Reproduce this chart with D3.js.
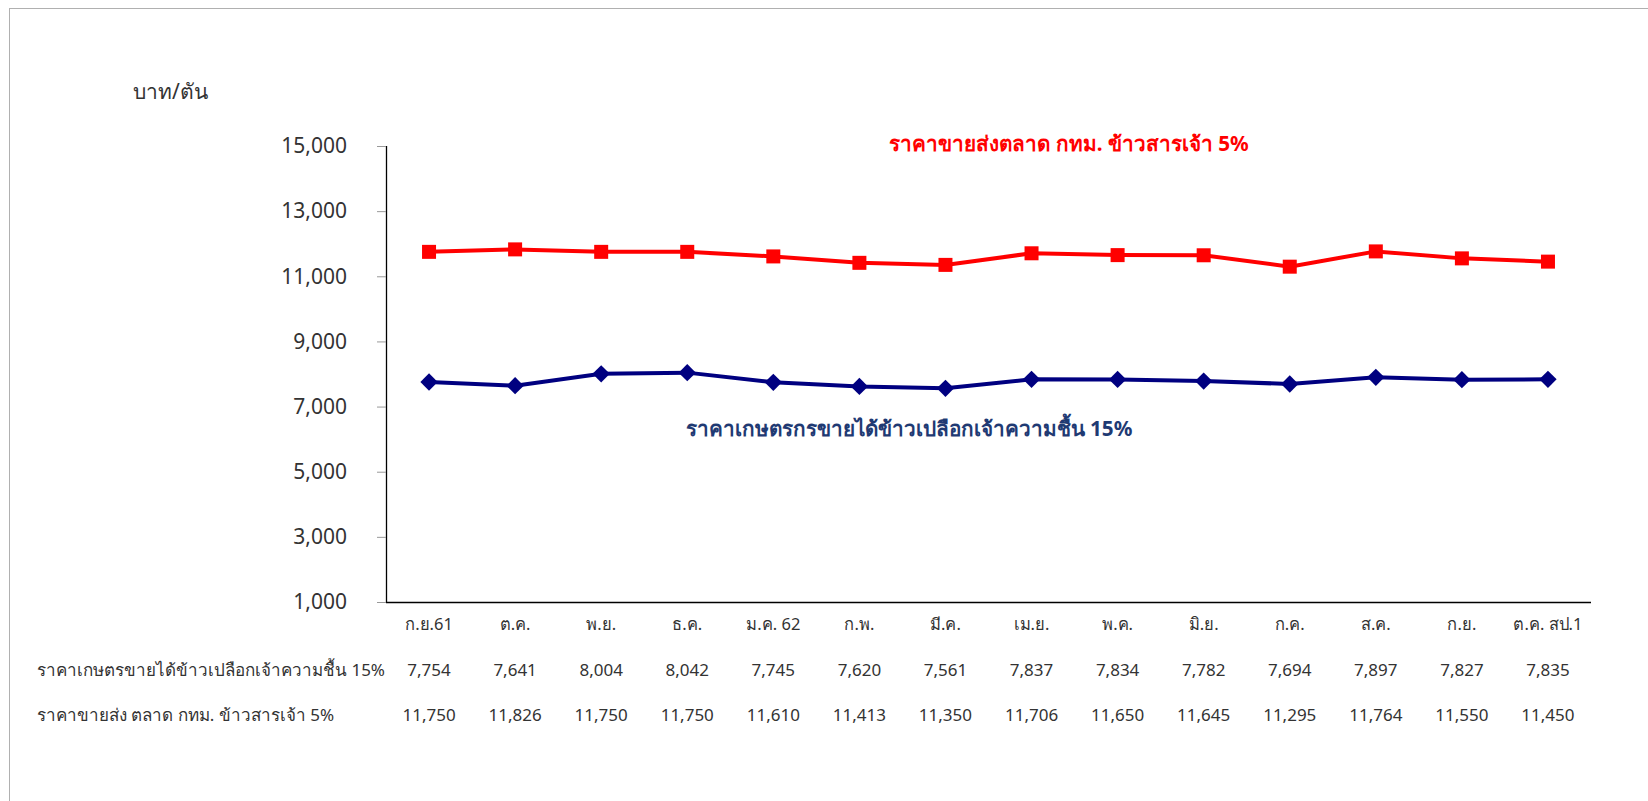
<!DOCTYPE html>
<html>
<head>
    <meta charset="utf-8">
    <style>
        body {
            margin: 0;
            width: 1648px;
            height: 801px;
            overflow: hidden;
            background: white;
        }
        svg {
            display: block;
            background: white;
        }
        text {
            font-family: "Noto Sans", Tahoma, "DejaVu Sans", sans-serif;
            fill: #333;
        }
        .axis text {
            font-size: 21px;
            fill: #333;
        }
        .cat text {
            font-size: 16.5px;
        }
        .tbl {
            font-size: 17px;
        }
    </style>
    <script src="https://d3js.org/d3.v7.min.js"></script>
</head>
<body>
<script>
const months = ["ก.ย.61", "ต.ค.", "พ.ย.", "ธ.ค.", "ม.ค. 62", "ก.พ.", "มี.ค.", "เม.ย.", "พ.ค.", "มิ.ย.", "ก.ค.", "ส.ค.", "ก.ย.", "ต.ค. สป.1"];
const farmPrice = [7754, 7641, 8004, 8042, 7745, 7620, 7561, 7837, 7834, 7782, 7694, 7897, 7827, 7835];
const wholesalePrice = [11750, 11826, 11750, 11750, 11610, 11413, 11350, 11706, 11650, 11645, 11295, 11764, 11550, 11450];
const yTicks = [1000, 3000, 5000, 7000, 9000, 11000, 13000, 15000];
const farmName = "ราคาเกษตรกรขายได้ข้าวเปลือกเจ้าความชื้น 15%";
const wholesaleName = "ราคาขายส่งตลาด กทม. ข้าวสารเจ้า 5%";
const farmRowName = "ราคาเกษตรขายได้ข้าวเปลือกเจ้าความชื้น 15%";
const wholesaleRowName = "ราคาขายส่ง ตลาด กทม. ข้าวสารเจ้า 5%";
const unit = "บาท/ตัน";

const width = 1648, height = 801;
const plot = {left: 386, right: 1591, top: 146, bottom: 602};

const svg = d3.select("body").append("svg")
    .attr("width", width)
    .attr("height", height);

// outer frame
svg.append("rect")
    .attr("x", 9.5).attr("y", 8.5)
    .attr("width", width).attr("height", height)
    .attr("fill", "none")
    .attr("stroke", "#b0b0b0");

const x = d3.scaleBand()
    .domain(months)
    .range([plot.left, plot.right]);

const y = d3.scaleLinear()
    .domain([1000, 15000])
    .range([plot.bottom, plot.top]);

// y axis
const yAxis = svg.append("g")
    .attr("class", "axis")
    .attr("transform", `translate(${plot.left},0)`)
    .call(d3.axisLeft(y).tickValues(yTicks).tickSize(9).tickPadding(30)
        .tickFormat(d3.format(",")));
yAxis.select(".domain").attr("stroke", "#000").attr("stroke-width", 1.3)
    .attr("d", `M0.5,${plot.top}V${plot.bottom}`);
yAxis.selectAll(".tick line").attr("stroke", "#999");

// x axis line
svg.append("line")
    .attr("x1", plot.left).attr("x2", plot.right)
    .attr("y1", plot.bottom + 0.5).attr("y2", plot.bottom + 0.5)
    .attr("stroke", "#000").attr("stroke-width", 1.3);

// unit label
svg.append("text")
    .attr("x", 133).attr("y", 99)
    .style("font-size", "21px")
    .text(unit);

// category labels
svg.append("g").attr("class", "cat")
    .selectAll("text")
    .data(months)
    .join("text")
    .attr("x", d => x(d) + x.bandwidth() / 2)
    .attr("y", 630)
    .attr("text-anchor", "middle")
    .text(d => d);

// data table rows
const rows = [
    {name: farmRowName, values: farmPrice, y: 676},
    {name: wholesaleRowName, values: wholesalePrice, y: 721}
];
rows.forEach(r => {
    svg.append("text").attr("class", "tbl")
        .attr("x", 37).attr("y", r.y)
        .text(r.name);
    svg.append("g").selectAll("text")
        .data(r.values)
        .join("text")
        .attr("class", "tbl")
        .attr("x", (d, i) => x(months[i]) + x.bandwidth() / 2)
        .attr("y", r.y)
        .attr("text-anchor", "middle")
        .text(d => d3.format(",")(d));
});

const line = d3.line()
    .x((d, i) => x(months[i]) + x.bandwidth() / 2)
    .y(d => y(d));

// wholesale series (red, squares)
svg.append("path")
    .datum(wholesalePrice)
    .attr("d", line)
    .attr("fill", "none")
    .attr("stroke", "#ff0000")
    .attr("stroke-width", 4);
svg.append("g").selectAll("rect")
    .data(wholesalePrice)
    .join("rect")
    .attr("x", (d, i) => x(months[i]) + x.bandwidth() / 2 - 7)
    .attr("y", d => y(d) - 7)
    .attr("width", 14).attr("height", 14)
    .attr("fill", "#ff0000");

// farm series (navy, diamonds)
svg.append("path")
    .datum(farmPrice)
    .attr("d", line)
    .attr("fill", "none")
    .attr("stroke", "#000080")
    .attr("stroke-width", 4);
svg.append("g").selectAll("path")
    .data(farmPrice)
    .join("path")
    .attr("d", d3.symbol(d3.symbolSquare, 150))
    .attr("transform", (d, i) => `translate(${x(months[i]) + x.bandwidth() / 2},${y(d)}) rotate(45)`)
    .attr("fill", "#000080");

// series labels
svg.append("text")
    .attr("x", 1069).attr("y", 151)
    .attr("text-anchor", "middle")
    .style("font-size", "20.7px").style("font-weight", "bold")
    .style("fill", "#ff0000")
    .text(wholesaleName);

svg.append("text")
    .attr("x", 909).attr("y", 436)
    .attr("text-anchor", "middle")
    .style("font-size", "20.7px").style("font-weight", "bold")
    .style("fill", "#1f3a73")
    .text(farmName);
</script>
</body>
</html>
